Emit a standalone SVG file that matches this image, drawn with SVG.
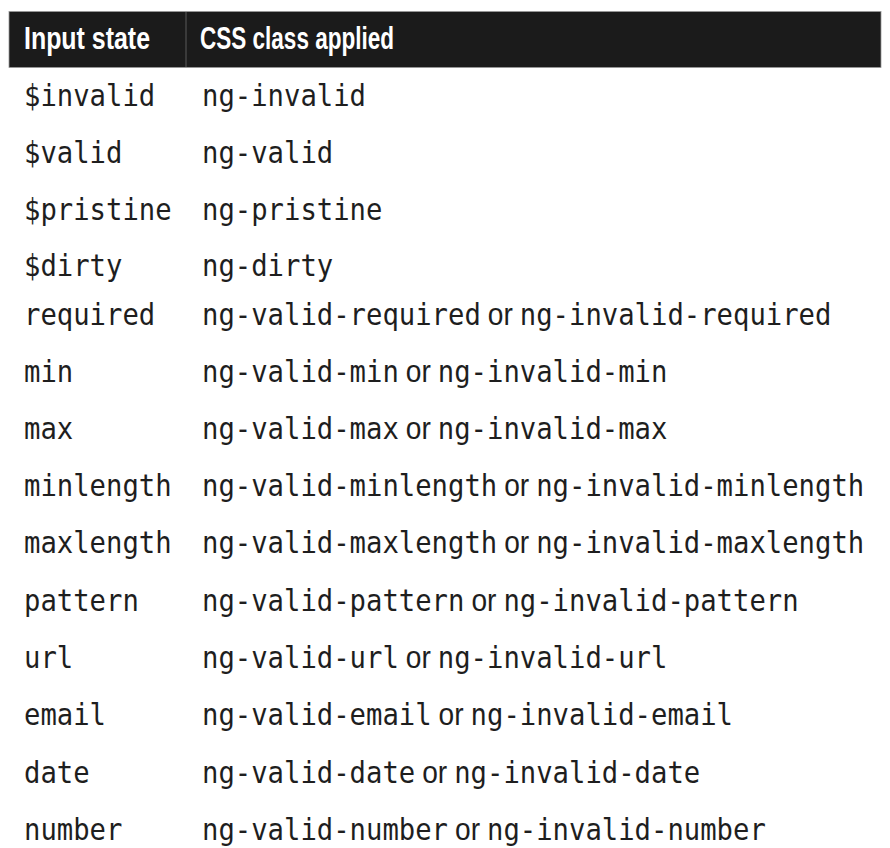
<svg xmlns="http://www.w3.org/2000/svg" width="890" height="848" viewBox="0 0 890 848">
<style>
.h{font-family:"Liberation Sans",Arial,sans-serif;font-weight:bold;font-size:31px;fill:#ffffff}
.m{font-family:"DejaVu Sans Mono","Liberation Mono",monospace;font-size:31px;fill:#1e1e1e}
.o{font-family:"Liberation Sans",Arial,sans-serif;font-size:32px;fill:#1e1e1e}
</style>
<rect x="0" y="0" width="890" height="848" fill="#ffffff"/>
<g id="header">
<rect x="9" y="11.5" width="872" height="56" fill="#1b1b1b" stroke="#9a9a9a" stroke-width="0.8"/>
<line x1="186" y1="12" x2="186" y2="67" stroke="#5a5a5a" stroke-width="1"/>
<text class="h" x="24" y="49" textLength="126" lengthAdjust="spacingAndGlyphs">Input state</text>
<text class="h" x="200" y="49" textLength="194" lengthAdjust="spacingAndGlyphs">CSS class applied</text>
</g>
<g id="row-invalid">
<text class="m" x="24" y="106" textLength="131.2" lengthAdjust="spacingAndGlyphs">$invalid</text>
<text class="m" x="202" y="106" textLength="164" lengthAdjust="spacingAndGlyphs">ng-invalid</text>
</g>
<g id="row-valid">
<text class="m" x="24" y="163" textLength="98.4" lengthAdjust="spacingAndGlyphs">$valid</text>
<text class="m" x="202" y="163" textLength="131.2" lengthAdjust="spacingAndGlyphs">ng-valid</text>
</g>
<g id="row-pristine">
<text class="m" x="24" y="220" textLength="147.6" lengthAdjust="spacingAndGlyphs">$pristine</text>
<text class="m" x="202" y="220" textLength="180.4" lengthAdjust="spacingAndGlyphs">ng-pristine</text>
</g>
<g id="row-dirty">
<text class="m" x="24" y="276" textLength="98.4" lengthAdjust="spacingAndGlyphs">$dirty</text>
<text class="m" x="202" y="276" textLength="131.2" lengthAdjust="spacingAndGlyphs">ng-dirty</text>
</g>
<g id="row-required">
<text class="m" x="24" y="325" textLength="131.2" lengthAdjust="spacingAndGlyphs">required</text>
<text class="m" x="202" y="325" textLength="278.8" lengthAdjust="spacingAndGlyphs">ng-valid-required</text>
<text class="o" x="487.8" y="325" textLength="25" lengthAdjust="spacingAndGlyphs">or</text>
<text class="m" x="519.8" y="325" textLength="311.6" lengthAdjust="spacingAndGlyphs">ng-invalid-required</text>
</g>
<g id="row-min">
<text class="m" x="24" y="382" textLength="49.2" lengthAdjust="spacingAndGlyphs">min</text>
<text class="m" x="202" y="382" textLength="196.8" lengthAdjust="spacingAndGlyphs">ng-valid-min</text>
<text class="o" x="405.8" y="382" textLength="25" lengthAdjust="spacingAndGlyphs">or</text>
<text class="m" x="437.8" y="382" textLength="229.6" lengthAdjust="spacingAndGlyphs">ng-invalid-min</text>
</g>
<g id="row-max">
<text class="m" x="24" y="439" textLength="49.2" lengthAdjust="spacingAndGlyphs">max</text>
<text class="m" x="202" y="439" textLength="196.8" lengthAdjust="spacingAndGlyphs">ng-valid-max</text>
<text class="o" x="405.8" y="439" textLength="25" lengthAdjust="spacingAndGlyphs">or</text>
<text class="m" x="437.8" y="439" textLength="229.6" lengthAdjust="spacingAndGlyphs">ng-invalid-max</text>
</g>
<g id="row-minlength">
<text class="m" x="24" y="496" textLength="147.6" lengthAdjust="spacingAndGlyphs">minlength</text>
<text class="m" x="202" y="496" textLength="295.2" lengthAdjust="spacingAndGlyphs">ng-valid-minlength</text>
<text class="o" x="504.2" y="496" textLength="25" lengthAdjust="spacingAndGlyphs">or</text>
<text class="m" x="536.2" y="496" textLength="328" lengthAdjust="spacingAndGlyphs">ng-invalid-minlength</text>
</g>
<g id="row-maxlength">
<text class="m" x="24" y="553" textLength="147.6" lengthAdjust="spacingAndGlyphs">maxlength</text>
<text class="m" x="202" y="553" textLength="295.2" lengthAdjust="spacingAndGlyphs">ng-valid-maxlength</text>
<text class="o" x="504.2" y="553" textLength="25" lengthAdjust="spacingAndGlyphs">or</text>
<text class="m" x="536.2" y="553" textLength="328" lengthAdjust="spacingAndGlyphs">ng-invalid-maxlength</text>
</g>
<g id="row-pattern">
<text class="m" x="24" y="611" textLength="114.8" lengthAdjust="spacingAndGlyphs">pattern</text>
<text class="m" x="202" y="611" textLength="262.4" lengthAdjust="spacingAndGlyphs">ng-valid-pattern</text>
<text class="o" x="471.4" y="611" textLength="25" lengthAdjust="spacingAndGlyphs">or</text>
<text class="m" x="503.4" y="611" textLength="295.2" lengthAdjust="spacingAndGlyphs">ng-invalid-pattern</text>
</g>
<g id="row-url">
<text class="m" x="24" y="668" textLength="49.2" lengthAdjust="spacingAndGlyphs">url</text>
<text class="m" x="202" y="668" textLength="196.8" lengthAdjust="spacingAndGlyphs">ng-valid-url</text>
<text class="o" x="405.8" y="668" textLength="25" lengthAdjust="spacingAndGlyphs">or</text>
<text class="m" x="437.8" y="668" textLength="229.6" lengthAdjust="spacingAndGlyphs">ng-invalid-url</text>
</g>
<g id="row-email">
<text class="m" x="24" y="725" textLength="82" lengthAdjust="spacingAndGlyphs">email</text>
<text class="m" x="202" y="725" textLength="229.6" lengthAdjust="spacingAndGlyphs">ng-valid-email</text>
<text class="o" x="438.6" y="725" textLength="25" lengthAdjust="spacingAndGlyphs">or</text>
<text class="m" x="470.6" y="725" textLength="262.4" lengthAdjust="spacingAndGlyphs">ng-invalid-email</text>
</g>
<g id="row-date">
<text class="m" x="24" y="783" textLength="65.6" lengthAdjust="spacingAndGlyphs">date</text>
<text class="m" x="202" y="783" textLength="213.2" lengthAdjust="spacingAndGlyphs">ng-valid-date</text>
<text class="o" x="422.2" y="783" textLength="25" lengthAdjust="spacingAndGlyphs">or</text>
<text class="m" x="454.2" y="783" textLength="246" lengthAdjust="spacingAndGlyphs">ng-invalid-date</text>
</g>
<g id="row-number">
<text class="m" x="24" y="840" textLength="98.4" lengthAdjust="spacingAndGlyphs">number</text>
<text class="m" x="202" y="840" textLength="246" lengthAdjust="spacingAndGlyphs">ng-valid-number</text>
<text class="o" x="455" y="840" textLength="25" lengthAdjust="spacingAndGlyphs">or</text>
<text class="m" x="487" y="840" textLength="278.8" lengthAdjust="spacingAndGlyphs">ng-invalid-number</text>
</g>
</svg>
